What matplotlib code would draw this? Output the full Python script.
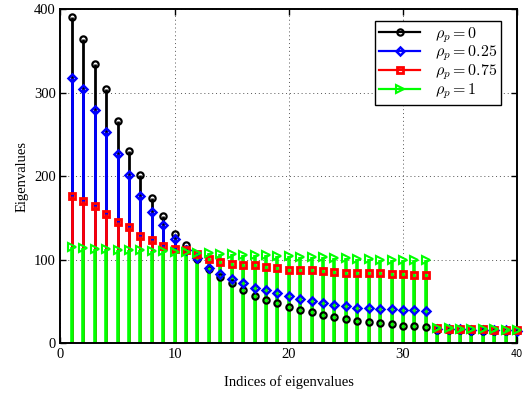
import matplotlib
matplotlib.use("Agg")
import matplotlib.pyplot as plt
from matplotlib.lines import Line2D
from matplotlib.legend_handler import HandlerLine2D

# ---- data ----
idx = list(range(1, 41))

rho0 = [390, 364, 334, 304, 266, 230, 201, 174, 152, 131, 117, 101, 89,
        79, 72, 64, 56, 51.5, 47.5, 43, 40, 37.5, 34, 31, 29, 26.5,
        25, 24, 22.5, 21, 20, 19,
        16, 15.5, 15.5, 15, 15, 14.5, 14.5, 14]
rho025 = [318, 304, 279, 253, 227, 201, 176, 157, 142, 125, 111, 102, 90,
          83, 77, 72, 66, 63.5, 59.5, 56, 52.5, 50.5, 48.5, 45.5, 44, 42.5,
          42, 41, 40.5, 40, 39.5, 39,
          17, 16.5, 16.5, 16, 16, 15.5, 15.5, 15]
rho075 = [176, 170, 164, 154, 145, 139, 128, 124, 116, 113, 111, 107, 101,
          97, 95, 94, 93, 91, 89.5, 88, 87.5, 87, 86, 85, 84.5, 84.5,
          84, 83.5, 83, 82.5, 82, 81.5,
          17.5, 17, 17, 16.5, 16.5, 16, 16, 15.5]
rho1 = [115, 114, 113, 112.5, 112, 111.5, 111, 110.5, 110, 109.5, 109, 108, 107.5,
        107, 106.5, 106, 105.5, 105, 104.5, 104, 103.5, 103, 102.5, 102, 101.5, 101,
        100.5, 100, 100, 99.5, 99, 99,
        18, 17.5, 17, 17, 16.5, 16.5, 16, 16]

labels = [r"$\rho_p = 0$", r"$\rho_p = 0.25$", r"$\rho_p = 0.75$", r"$\rho_p = 1$"]
series = [rho0, rho025, rho075, rho1]

# ---- style ----
plt.rcParams["font.family"] = "Liberation Serif"
plt.rcParams["mathtext.fontset"] = "cm"

styles = [
    dict(color="black", marker="o", ms=4.5, mew=1.6, lw=2.0),
    dict(color="#0000ff", marker="D", ms=3.6, mew=1.8, lw=2.0),
    dict(color="#ff0000", marker="s", ms=3.8, mew=2.0, lw=2.0),
    dict(color="#00ff00", marker=">", ms=5.5, mew=1.5, lw=2.6),
]


class EndMarkerHandler(HandlerLine2D):
    # MATLAB style legend: marker sits at the right end of the line
    def get_xdata(self, legend, xdescent, ydescent, width, height, fontsize):
        return [-xdescent, -xdescent + width], [-xdescent + width]


fig = plt.figure(figsize=(5.26, 3.93), dpi=100)
ax = fig.add_axes([0.115, 0.127, 0.868, 0.850])

handles = []
for vals, st, lab in zip(series, styles, labels):
    ax.vlines(idx, 0, vals, colors=st["color"], linewidth=st["lw"], zorder=2)
    ax.plot(idx, vals, linestyle="none", marker=st["marker"], markersize=st["ms"],
            markerfacecolor="none", markeredgecolor=st["color"],
            markeredgewidth=st["mew"], zorder=3, clip_on=False)
    handles.append(Line2D([], [], color=st["color"], linewidth=1.6,
                          marker=st["marker"], markersize=st["ms"],
                          markerfacecolor="none", markeredgecolor=st["color"],
                          markeredgewidth=st["mew"]))

ax.set_xlim(0, 40)
ax.set_ylim(0, 400)
ax.set_xticks([0, 10, 20, 30, 40])
ax.set_yticks([0, 100, 200, 300, 400])
ax.set_xticklabels(["0", "10", "20", "30", ""], fontsize=10.5)
ax.set_yticklabels(["0", "100", "200", "300", "400"], fontsize=10.5)
ax.text(40, -7, "40", fontsize=7, family="DejaVu Sans", ha="center", va="top")

ax.grid(True, linestyle=(0, (1, 3)), color="#555555", linewidth=0.7)
ax.set_axisbelow(True)
ax.tick_params(direction="in", top=True, right=True, length=4, width=1)
for sp in ax.spines.values():
    sp.set_linewidth(1.4)

ax.set_xlabel("Indices of eigenvalues", fontsize=10.5, labelpad=10)
ax.set_ylabel("Eigenvalues", fontsize=10.5, labelpad=4)

leg = ax.legend(handles, labels, loc="upper right", fontsize=11.5,
                handler_map={Line2D: EndMarkerHandler()},
                fancybox=False, framealpha=1, edgecolor="black",
                handlelength=2.6, borderpad=0.25, labelspacing=-0.05,
                handletextpad=0.9, borderaxespad=0,
                bbox_to_anchor=(0.965, 0.964))
leg.get_frame().set_linewidth(1.0)

fig.savefig("out.png", dpi=100)
